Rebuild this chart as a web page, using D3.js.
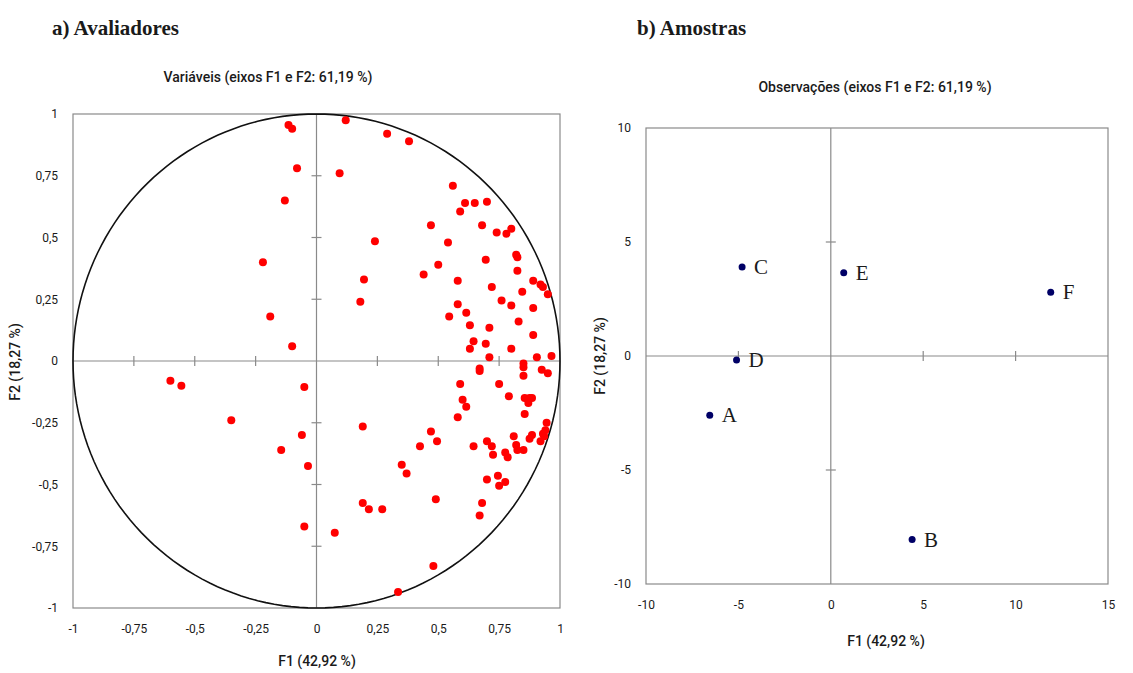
<!DOCTYPE html>
<html>
<head>
<meta charset="utf-8">
<script src="https://cdn.jsdelivr.net/npm/d3@7"></script>
<style>
  body { margin: 0; background: #fff; }
  svg text { fill: #1a1a1a; }
  .tick-lbl, .ax-title, .sub-title { font-family: "Roboto", "DejaVu Sans", sans-serif; }
  .ax-title, .sub-title { font-weight: 500; }
</style>
</head>
<body>
<div id="chart"></div>
<script>
// Variáveis (avaliadores) – coordenadas F1 / F2
const varF1 = [-0.115, -0.10, -0.08, -0.13, -0.22, -0.19, -0.10, -0.60, -0.555, -0.35, -0.05, -0.06, -0.145, -0.035, -0.05,
  0.12, 0.29, 0.38, 0.095, 0.56, 0.61, 0.65, 0.70, 0.59, 0.47, 0.68, 0.74, 0.78, 0.80, 0.24, 0.54, 0.82, 0.825, 0.695, 0.50,
  0.825, 0.44, 0.195, 0.58, 0.89, 0.92, 0.93, 0.72, 0.845, 0.95, 0.18, 0.76, 0.58, 0.80, 0.89, 0.615, 0.545, 0.63, 0.83, 0.71,
  0.89, 0.645, 0.63, 0.695, 0.80, 0.71, 0.905, 0.965, 0.85, 0.85,
  0.67, 0.67, 0.85, 0.925, 0.95, 0.75, 0.59, 0.79, 0.60, 0.615, 0.855, 0.875, 0.87, 0.885, 0.855, 0.58, 0.945, 0.94, 0.93,
  0.92, 0.935, 0.885, 0.875, 0.81, 0.82, 0.825, 0.85, 0.47, 0.495, 0.70, 0.72, 0.725, 0.645, 0.775, 0.785, 0.425, 0.35, 0.37,
  0.745, 0.775, 0.75, 0.70, 0.49, 0.68, 0.67, 0.19, 0.19, 0.215, 0.27, 0.075, 0.48, 0.335];
const varF2 = [0.955, 0.94, 0.78, 0.65, 0.40, 0.18, 0.06, -0.08, -0.10, -0.24, -0.105, -0.30, -0.36, -0.425, -0.67,
  0.975, 0.92, 0.89, 0.76, 0.71, 0.64, 0.64, 0.645, 0.605, 0.55, 0.55, 0.52, 0.515, 0.535, 0.485, 0.48, 0.43, 0.42, 0.41, 0.39,
  0.365, 0.35, 0.33, 0.325, 0.325, 0.31, 0.30, 0.30, 0.28, 0.27, 0.24, 0.245, 0.23, 0.225, 0.215, 0.195, 0.18, 0.145, 0.16, 0.135,
  0.105, 0.08, 0.05, 0.07, 0.05, 0.015, 0.015, 0.02, -0.01, -0.025,
  -0.03, -0.04, -0.06, -0.035, -0.05, -0.093, -0.093, -0.143, -0.157, -0.185, -0.15, -0.15, -0.17, -0.15, -0.215, -0.228, -0.25, -0.28, -0.295,
  -0.325, -0.305, -0.30, -0.315, -0.305, -0.34, -0.36, -0.36, -0.285, -0.325, -0.325, -0.345, -0.38, -0.345, -0.37, -0.39, -0.345, -0.42, -0.455,
  -0.465, -0.49, -0.505, -0.48, -0.56, -0.575, -0.625, -0.265, -0.575, -0.60, -0.60, -0.695, -0.83, -0.935];

// Observações (amostras)
const amostras = ["A", "B", "C", "D", "E", "F"];
const amoF1 = [-6.55, 4.4, -4.8, -5.1, 0.7, 11.9];
const amoF2 = [-2.6, -8.05, 3.9, -0.17, 3.65, 2.8];

// ticks
const varTicks = [-1, -0.75, -0.5, -0.25, 0, 0.25, 0.5, 0.75, 1];
const obsXTicks = [-10, -5, 0, 5, 10, 15];
const obsYTicks = [-10, -5, 0, 5, 10];

const fmt = d => String(d).replace(".", ",");

const W = 1133, H = 673;
const svg = d3.select("#chart").append("svg")
  .attr("width", W).attr("height", H)
  .style("background", "#fff");

function drawFrame(x, y, xTicks, yTicks) {
  const [x0, x1] = x.range(), [y0, y1] = y.range();
  const g = svg.append("g");
  // caixa
  g.append("rect")
    .attr("x", x0).attr("y", y1)
    .attr("width", x1 - x0).attr("height", y0 - y1)
    .attr("fill", "none").attr("stroke", "#8a8a8a").attr("stroke-width", 1.2);
  // eixos zero
  g.append("line").attr("x1", x0).attr("x2", x1).attr("y1", y(0)).attr("y2", y(0))
    .attr("stroke", "#8a8a8a").attr("stroke-width", 1.2);
  g.append("line").attr("x1", x(0)).attr("x2", x(0)).attr("y1", y0).attr("y2", y1)
    .attr("stroke", "#8a8a8a").attr("stroke-width", 1.2);
  // marcas cruzadas
  const dx = xTicks.filter(t => t !== 0 && t !== x.domain()[0] && t !== x.domain()[1]);
  const dy = yTicks.filter(t => t !== 0 && t !== y.domain()[0] && t !== y.domain()[1]);
  g.selectAll(".tx").data(dx).enter().append("line")
    .attr("x1", d => x(d)).attr("x2", d => x(d))
    .attr("y1", y(0) - 5).attr("y2", y(0) + 5)
    .attr("stroke", "#8a8a8a").attr("stroke-width", 1.2);
  g.selectAll(".ty").data(dy).enter().append("line")
    .attr("y1", d => y(d)).attr("y2", d => y(d))
    .attr("x1", x(0) - 5).attr("x2", x(0) + 5)
    .attr("stroke", "#8a8a8a").attr("stroke-width", 1.2);

  // rótulos dos eixos via d3.axis
  const ax = g.append("g").attr("transform", `translate(0,${y0 + 13})`)
    .call(d3.axisBottom(x).tickValues(xTicks).tickFormat(fmt).tickSize(0));
  const ay = g.append("g").attr("transform", `translate(${x0 - 12},0)`)
    .call(d3.axisLeft(y).tickValues(yTicks).tickFormat(fmt).tickSize(0));
  [ax, ay].forEach(a => {
    a.select(".domain").remove();
    a.selectAll("text").attr("class", "tick-lbl").style("font-size", "12px").attr("fill", "#1a1a1a");
  });
  return g;
}

// ---- a) Avaliadores ----
const xa = d3.scaleLinear().domain([-1, 1]).range([73, 560]);
const ya = d3.scaleLinear().domain([-1, 1]).range([608, 114]);
drawFrame(xa, ya, varTicks, varTicks);

const circ = d3.range(0, 361, 2).map(a => [Math.cos(a * Math.PI / 180), Math.sin(a * Math.PI / 180)]);
svg.append("path")
  .attr("d", d3.line().x(d => xa(d[0])).y(d => ya(d[1]))(circ))
  .attr("fill", "none").attr("stroke", "#111").attr("stroke-width", 1.6);

svg.append("g").selectAll("circle")
  .data(varF1.map((v, i) => [v, varF2[i]]))
  .enter().append("circle")
  .attr("cx", d => xa(d[0])).attr("cy", d => ya(d[1]))
  .attr("r", 4).attr("fill", "#ff0000");

// ---- b) Amostras ----
const xb = d3.scaleLinear().domain([-10, 15]).range([646, 1108]);
const yb = d3.scaleLinear().domain([-10, 10]).range([584, 128]);
drawFrame(xb, yb, obsXTicks, obsYTicks);

const obs = amostras.map((n, i) => ({ n, f1: amoF1[i], f2: amoF2[i] }));
const og = svg.append("g");
og.selectAll("circle").data(obs).enter().append("circle")
  .attr("cx", d => xb(d.f1)).attr("cy", d => yb(d.f2))
  .attr("r", 3.5).attr("fill", "#000066");
og.selectAll("text").data(obs).enter().append("text")
  .attr("x", d => xb(d.f1) + 12).attr("y", d => yb(d.f2) + 7)
  .style("font-family", "'Liberation Serif', 'DejaVu Serif', serif")
  .style("font-size", "21px")
  .text(d => d.n);

// ---- títulos ----
const serifBold = "'Liberation Serif', 'DejaVu Serif', serif";
svg.append("text").attr("x", 52).attr("y", 35)
  .style("font-family", serifBold).style("font-weight", "bold").style("font-size", "21px")
  .text("a) Avaliadores");
svg.append("text").attr("x", 637).attr("y", 35)
  .style("font-family", serifBold).style("font-weight", "bold").style("font-size", "21px")
  .text("b) Amostras");

svg.append("text").attr("class", "sub-title").attr("x", 268).attr("y", 82)
  .attr("text-anchor", "middle").style("font-size", "14px")
  .text("Variáveis (eixos F1 e F2: 61,19 %)");
svg.append("text").attr("class", "sub-title").attr("x", 875).attr("y", 92)
  .attr("text-anchor", "middle").style("font-size", "14px")
  .text("Observações (eixos F1 e F2: 61,19 %)");

// títulos dos eixos
svg.append("text").attr("class", "ax-title").attr("x", 317).attr("y", 666)
  .attr("text-anchor", "middle").style("font-size", "14px").text("F1 (42,92 %)");
svg.append("text").attr("class", "ax-title").attr("x", 886).attr("y", 646)
  .attr("text-anchor", "middle").style("font-size", "14px").text("F1 (42,92 %)");
svg.append("text").attr("class", "ax-title")
  .attr("transform", "translate(20,362) rotate(-90)")
  .attr("text-anchor", "middle").style("font-size", "14px").text("F2 (18,27 %)");
svg.append("text").attr("class", "ax-title")
  .attr("transform", "translate(605,356) rotate(-90)")
  .attr("text-anchor", "middle").style("font-size", "14px").text("F2 (18,27 %)");
</script>
</body>
</html>
